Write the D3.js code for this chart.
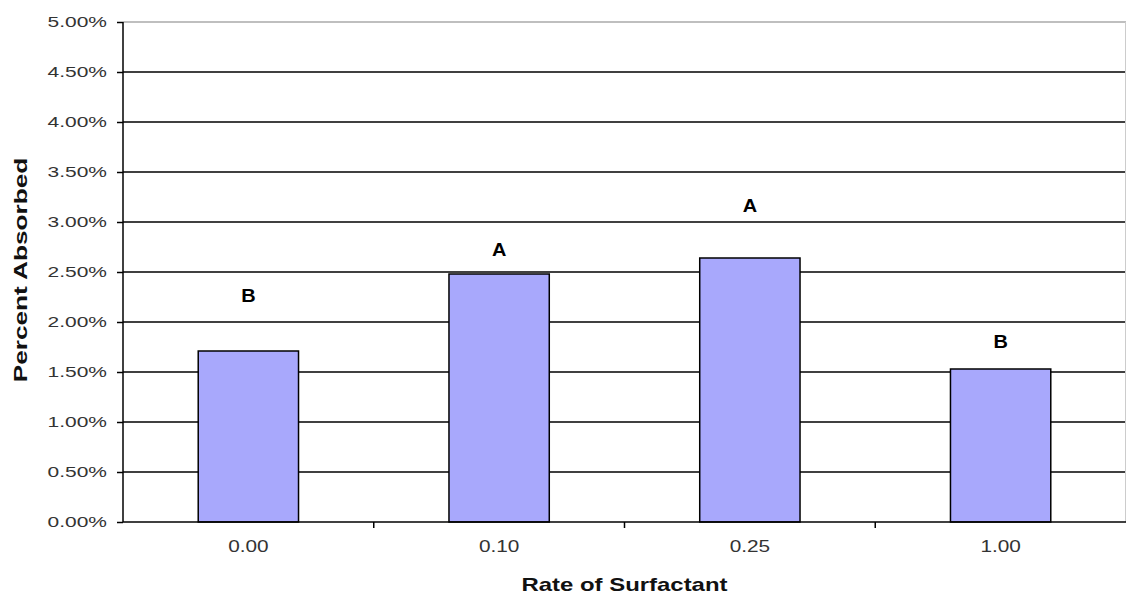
<!DOCTYPE html>
<html><head><meta charset="utf-8">
<script src="https://cdn.jsdelivr.net/npm/d3@7"></script>
<style>body{margin:0;background:#fff}svg{display:block}text{font-family:"Liberation Sans",Arial,sans-serif}</style>
</head><body><svg id="c" width="1126" height="599"></svg>
<script>
const categories = ["0.00","0.10","0.25","1.00"];
const values = [0.0171, 0.0248, 0.0264, 0.0153];
const letters = ["B","A","A","B"];
const letterLevels = [0.0227, 0.0273, 0.0317, 0.0181];
const yTicks = [0,0.005,0.01,0.015,0.02,0.025,0.03,0.035,0.04,0.045,0.05];

const svg = d3.select("#c");
const L = 123, R = 1126, T = 22, B = 522;
const x = d3.scaleBand().domain(categories).range([L, R]).paddingInner(0.6).paddingOuter(0.3);
const xb = d3.scaleBand().domain(categories).range([L, R]);
const y = d3.scaleLinear().domain([0, 0.05]).range([B, T]);
const fmt = d3.format(".2%");
const FONT = '"Liberation Sans",Arial,sans-serif';

// gridlines
svg.append("g").selectAll("line").data(yTicks.filter(d=>d>0)).join("line")
  .attr("x1", L).attr("x2", R).attr("y1", d=>y(d)).attr("y2", d=>y(d))
  .attr("stroke", d=> d===0.05 ? "#aaa" : "#000").attr("stroke-width", 1.5);
// right border
svg.append("line").attr("x1", R-0.5).attr("x2", R-0.5).attr("y1", T).attr("y2", B).attr("stroke","#ccc");

// bars
svg.append("g").selectAll("rect").data(values).join("rect")
  .attr("x", (d,i)=>x(categories[i])).attr("width", x.bandwidth())
  .attr("y", d=>y(d)).attr("height", d=>B - y(d))
  .attr("fill", "#a8a8fc").attr("stroke", "#000").attr("stroke-width", 1.5);

// letters
svg.append("g").selectAll("text").data(letters).join("text")
  .attr("transform", (d,i)=>`translate(${x(categories[i]) + x.bandwidth()/2},${y(letterLevels[i])}) scale(1.05,1)`)
  .attr("dy","0.36em")
  .attr("text-anchor","middle").attr("font-size", 19).attr("font-weight","bold").text(d=>d);

// y axis
const sy = 1.4;
const ya = svg.append("g").attr("transform", `translate(${L},0)`)
  .call(d3.axisLeft(y).tickValues(yTicks).tickFormat(fmt).tickSize(6).tickPadding(10));
ya.select(".domain").attr("stroke","#000").attr("stroke-width",1.5).attr("d", `M0,${T}V${B}`);
ya.selectAll(".tick line").attr("stroke","#000").attr("stroke-width",1.5);
ya.selectAll(".tick text").attr("font-size", 15).attr("fill","#333")
  .attr("x", -16/sy).attr("transform", `scale(${sy},1)`)
  .style("font-family", FONT);

// x axis
const xa = svg.append("g").attr("transform", `translate(0,${B})`)
  .call(d3.axisBottom(xb).tickSize(0).tickPadding(19));
xa.select(".domain").attr("stroke","#000").attr("stroke-width",1.5).attr("d", `M${L},0H${R}`);
xa.selectAll(".tick text").attr("font-size", 16).attr("fill","#333")
  .attr("transform", "scale(1.3,1)")
  .style("font-family", FONT);
// category boundary ticks
svg.append("g").selectAll("line").data(categories.slice(1)).join("line")
  .attr("x1", d=>xb(d)).attr("x2", d=>xb(d)).attr("y1", B).attr("y2", B+6)
  .attr("stroke","#000").attr("stroke-width",1.5);

// titles
svg.append("text").attr("transform", `translate(${(L+R)/2},591) scale(1.33,1)`).attr("text-anchor","middle")
  .attr("font-size", 18).attr("font-weight","bold").attr("fill","#111").text("Rate of Surfactant");
svg.append("text").attr("transform", `translate(27,270) rotate(-90) scale(1.38,1)`).attr("text-anchor","middle")
  .attr("font-size", 19).attr("font-weight","bold").attr("fill","#111").text("Percent Absorbed");
</script></body></html>
